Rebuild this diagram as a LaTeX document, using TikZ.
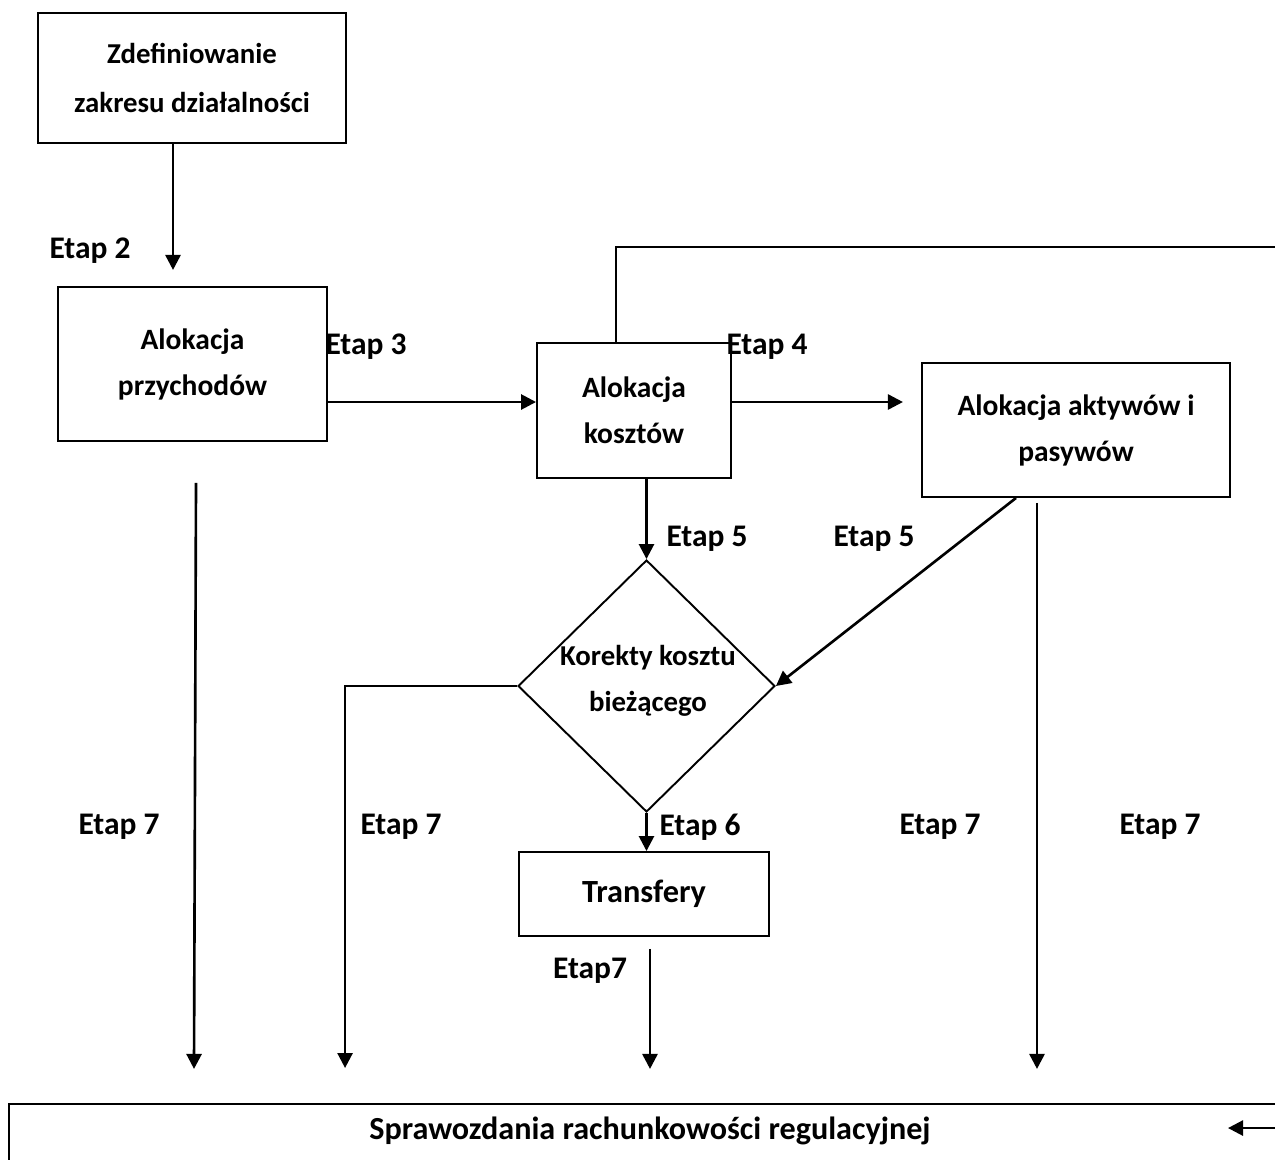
\documentclass[tikz,border=0pt]{standalone}
\usepackage{fontspec}
\setmainfont{Carlito}
\usetikzlibrary{shapes.geometric, arrows.meta, positioning, calc}

\begin{document}
\begin{tikzpicture}[
    x=0.02cm, y=-0.02cm,
    box/.style={rectangle, draw=black, line width=1.1pt, align=center, inner sep=0pt,
        font=\bfseries\fontsize{16.8}{26.2}\selectfont},
    decision/.style={diamond, draw=black, line width=1.1pt, inner sep=0pt,
        minimum width=5.14cm, minimum height=5.04cm},
    etap/.style={font=\bfseries\fontsize{17.9}{20}\selectfont, inner sep=0pt},
    >={Triangle[length=0.3cm, width=0.3cm]}, line width=1.5pt
]
    \path[use as bounding box, clip] (0,0) rectangle (1275,1160);

    % boxes
    \node[box, minimum width=6.16cm, minimum height=2.6cm,
        font=\bfseries\fontsize{16.4}{27.9}\selectfont] (scope) at (192,78) {Zdefiniowanie\\zakresu działalności};
    \node[box, minimum width=5.38cm, minimum height=3.08cm] (rev) at (192.5,364) {Alokacja\\przychodów};
    \node[box, minimum width=3.88cm, minimum height=2.7cm] (cost) at (634,410.5) {Alokacja\\kosztów};
    \node[box, minimum width=6.16cm, minimum height=2.68cm] (asset) at (1076,430) {Alokacja aktywów i\\pasywów};
    \node[decision] (corr) at (646.5,686) {};
    \node[box, draw=none, font=\bfseries\fontsize{16.4}{26.2}\selectfont] (corrtext) at (648,681) {Korekty kosztu\\bieżącego};
    \node[box, minimum width=5cm, minimum height=1.68cm,
        font=\bfseries\fontsize{18.4}{20}\selectfont] (trans) at (644,894) {Transfery};
    \node[box, minimum width=25.64cm, minimum height=1.4cm, anchor=base, text height=8pt, text depth=8pt,
        font=\bfseries\fontsize{18.3}{20}\selectfont] (report) at (650,1139) {Sprawozdania rachunkowości regulacyjnej};

    % stages
    \node[etap] (e2) at (90,251) {Etap 2};
    \node[etap] (e3) at (366,347) {Etap 3};
    \node[etap] (e4) at (767,347) {Etap 4};
    \node[etap] (e5a) at (707,539) {Etap 5};
    \node[etap] (e5b) at (874,539) {Etap 5};
    \node[etap] (e6) at (700,827) {Etap 6};
    \node[etap] (e7a) at (119,827) {Etap 7};
    \node[etap] (e7b) at (401,827) {Etap 7};
    \node[etap] (e7c) at (940,827) {Etap 7};
    \node[etap] (e7d) at (1160,827) {Etap 7};
    \node[etap] (e7e) at (590,971) {Etap7};

    % edges
    \draw[->] ($(scope.south)+(-19,0)$) -- ++(0,126);
    \draw[->] ($(rev.east)+(0,38)$) coordinate (revout) -- (revout -| cost.west);
    \draw[->] (cost.east |- revout) -- ++(171,0);
    \draw ($(cost.north)+(-18,0)$) -- ++(0,-95) -- ++(700,0);
    \draw[->] (corr.north |- cost.south) -- (corr.north);
    \draw[->] ($(asset.south)+(-60,0)$) -- (corr.east);
    \draw[->] (corr.west) -| ++(-172,382);
    \draw[->] ($(rev.south)+(3.5,41)$) -- ++(-2,586);
    \draw[->] ($(asset.south)+(-39,5)$) -- ++(0,566);
    \draw[->] (corr.south) -- (corr.south |- trans.north);
    \draw[->] ($(trans.south)+(6,12)$) -- ++(0,120);
    \draw[->] ($(report.north)+(625,25)$) -- ++(-47,0);
\end{tikzpicture}
\end{document}
